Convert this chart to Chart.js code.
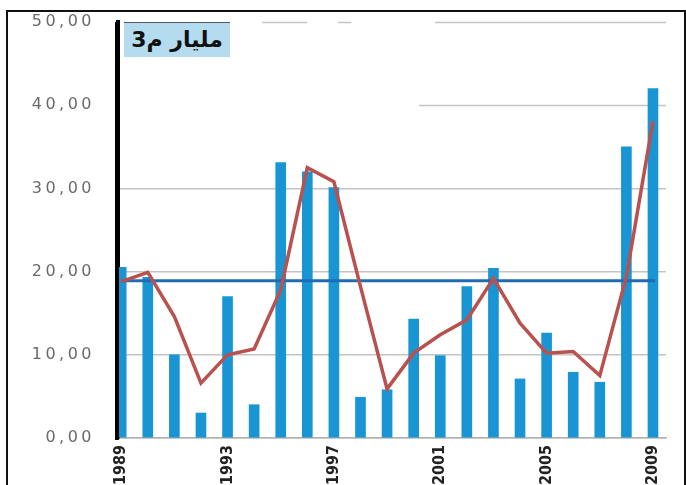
<!DOCTYPE html>
<html>
<head>
<meta charset="utf-8">
<script src="https://cdn.jsdelivr.net/npm/chart.js@4/dist/chart.umd.min.js"></script>
<style>
  html, body { margin: 0; padding: 0; background: #fff; }
  #wrap { position: relative; width: 686px; height: 485px; }
  #frame {
    position: absolute; left: 6px; top: 10px; width: 676px; height: 480px;
    border: 2px solid #111; pointer-events: none;
  }
  #unit {
    position: absolute; left: 124px; top: 22px; width: 106px; height: 34px;
    background: #b4dbee; border-top: 1px solid #556;
    font: bold 22px "DejaVu Sans", sans-serif; color: #111;
    direction: rtl; text-align: center; line-height: 33px;
  }
</style>
</head>
<body>
<div id="wrap">
  <canvas id="chart" width="686" height="485"></canvas>
  <div id="unit">مليار م3</div>
  <div id="frame"></div>
</div>
<script>
// years on the x axis
const years = [1989, 1990, 1991, 1992, 1993, 1994, 1995, 1996, 1997, 1998, 1999,
               2000, 2001, 2002, 2003, 2004, 2005, 2006, 2007, 2008, 2009];
// yearly volume (billion m3)
const volumes = [20.5, 19.3, 10.0, 3.0, 17.0, 4.0, 33.1, 32.0, 30.1, 4.9, 5.8,
                 14.3, 9.9, 18.2, 20.4, 7.1, 12.6, 7.9, 6.7, 35.0, 42.0];
// smoothed trend (red line)
const trend = [18.8, 19.9, 14.6, 6.6, 10.0, 10.7, 17.8, 32.5, 30.8, 18.2, 5.9,
               10.2, 12.4, 14.2, 19.2, 13.8, 10.2, 10.4, 7.5, 19.4, 38.1];
// long-term mean (blue line)
const meanValue = 18.9;
const yearTicks = [1989, 1993, 1997, 2001, 2005, 2009];
const yTicks = [0, 10, 20, 30, 40, 50];

// gridlines at 40 and 50 are only partly visible in the source
const partialGrid = [
    { value: 50, from: 1994.3, to: 1996.0 },
    { value: 50, from: 1997.15, to: 1997.65 },
    { value: 50, from: 2000.8, to: null },
    { value: 40, from: 2000.2, to: null }
];

const toPoints = vals => vals.map((v, i) => ({ x: years[i], y: v }));

const spacedTicks = {
    id: 'spacedTicks',
    afterDatasetsDraw(chart) { chart.ctx.letterSpacing = '3.5px'; },
    afterDraw(chart) { chart.ctx.letterSpacing = '0px'; }
};

const brokenGrid = {
    id: 'brokenGrid',
    beforeDatasetsDraw(chart) {
        const { ctx, chartArea, scales: { x, y } } = chart;
        ctx.save();
        ctx.strokeStyle = '#c4c4c4';
        ctx.lineWidth = 1.5;
        partialGrid.forEach(g => {
            const py = Math.round(y.getPixelForValue(g.value)) + 0.5;
            const x0 = x.getPixelForValue(g.from);
            const x1 = g.to === null ? chartArea.right : x.getPixelForValue(g.to);
            ctx.beginPath();
            ctx.moveTo(x0, py);
            ctx.lineTo(x1, py);
            ctx.stroke();
        });
        ctx.restore();
    },
    // the thick black value axis sits on top of the first bar
    afterDatasetsDraw(chart) {
        const { ctx, chartArea } = chart;
        ctx.save();
        ctx.strokeStyle = '#000';
        ctx.lineWidth = 4;
        ctx.beginPath();
        ctx.moveTo(chartArea.left - 1, chartArea.top);
        ctx.lineTo(chartArea.left - 1, chartArea.bottom + 2);
        ctx.stroke();
        ctx.restore();
    }
};

new Chart(document.getElementById('chart'), {
    type: 'bar',
    data: {
        datasets: [
            {
                type: 'line',
                data: toPoints(trend),
                borderColor: '#b9524f',
                borderWidth: 3.5,
                pointRadius: 0,
                tension: 0
            },
            {
                type: 'line',
                data: [{ x: years[0], y: meanValue }, { x: years[years.length - 1] + 0.08, y: meanValue }],
                borderColor: '#1f6cb2',
                borderWidth: 3,
                pointRadius: 0
            },
            {
                type: 'bar',
                data: toPoints(volumes),
                backgroundColor: '#1a95d3',
                barThickness: 10
            }
        ]
    },
    options: {
        responsive: false,
        animation: false,
        devicePixelRatio: 1,
        layout: { padding: { top: 22, right: 20, left: 0, bottom: 0 } },
        plugins: { legend: { display: false }, tooltip: { enabled: false } },
        scales: {
            x: {
                type: 'linear',
                offset: false,
                min: 1988.88,
                max: 2009.49,
                afterBuildTicks: scale => { scale.ticks = yearTicks.map(v => ({ value: v })); },
                afterFit: scale => {
                    scale.height = 47;
                    scale.paddingLeft = 0;
                    scale.paddingRight = 0;
                },
                grid: { display: false, drawTicks: false, offset: false },
                border: { display: true, color: '#b0b0b0', width: 1.5 },
                ticks: {
                    minRotation: 90,
                    maxRotation: 90,
                    padding: 7,
                    color: '#222',
                    font: { family: '"Liberation Sans Narrow", "DejaVu Sans Condensed", sans-serif', size: 16, weight: 'bold' },
                    callback: v => String(v)
                }
            },
            y: {
                min: 0,
                max: 50,
                afterBuildTicks: scale => { scale.ticks = yTicks.map(v => ({ value: v })); },
                afterFit: scale => {
                    scale.width = 118;
                    scale.paddingTop = 0;
                    scale.paddingBottom = 0;
                },
                grid: {
                    drawTicks: false,
                    lineWidth: 1.5,
                    color: ctx => (ctx.tick && ctx.tick.value >= 40) ? 'rgba(0,0,0,0)' : '#c4c4c4'
                },
                border: { display: true, color: '#000', width: 4 },
                ticks: {
                    z: 1,
                    padding: 23,
                    color: '#6a6a6a',
                    font: { family: '"DejaVu Sans", sans-serif', size: 16 },
                    callback: v => v.toFixed(2).replace('.', ',')
                }
            }
        }
    },
    plugins: [spacedTicks, brokenGrid]
});
</script>
</body>
</html>
